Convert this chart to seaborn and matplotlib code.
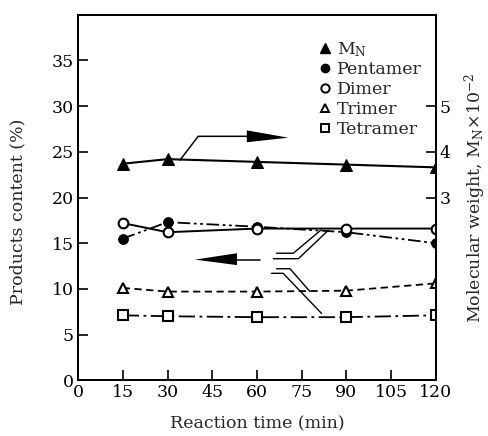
import matplotlib
matplotlib.use("Agg")
import matplotlib.pyplot as plt
import seaborn as sns
import pandas as pd
from matplotlib.lines import Line2D

# ---- data ----
time_min = [15, 30, 60, 90, 120]
mn = [3.74, 3.84, 3.78, 3.72, 3.66]          # Mn x 10^-2 (right axis)
pentamer = [15.5, 17.3, 16.8, 16.2, 15.0]
dimer = [17.2, 16.2, 16.6, 16.6, 16.6]
trimer = [10.1, 9.7, 9.7, 9.8, 10.6]
tetramer = [7.1, 7.0, 6.9, 6.9, 7.1]
x_ticks = [0, 15, 30, 45, 60, 75, 90, 105, 120]
y_ticks = [0, 5, 10, 15, 20, 25, 30, 35]
y2_ticks = [3, 4, 5]

sns.set_theme(style="ticks")
plt.rcParams['font.family'] = ['DejaVu Serif', 'Liberation Serif']
plt.rcParams['mathtext.fontset'] = 'dejavuserif'

FS = 12.5
fig = plt.figure(figsize=(4.88, 4.36), dpi=100)
ax = fig.add_axes([0.16, 0.128, 0.733, 0.838])
ax2 = ax.twinx()

df = pd.DataFrame({"t": time_min, "mn": mn, "pent": pentamer, "dim": dimer,
                   "tri": trimer, "tet": tetramer})

k = 'black'
# left-axis series
sns.lineplot(data=df, x="t", y="dim", ax=ax, color=k, lw=1.4, marker='o',
             markersize=7, markerfacecolor='white', markeredgecolor=k,
             markeredgewidth=1.5, zorder=4)
sns.lineplot(data=df, x="t", y="pent", ax=ax, color=k, lw=1.3, marker='o',
             markersize=7, markerfacecolor=k, markeredgecolor=k,
             dashes=False, zorder=3)
ax.lines[-1].set_linestyle((0, (7, 2, 1.5, 2, 1.5, 2)))
sns.lineplot(data=df, x="t", y="tri", ax=ax, color=k, lw=1.3, marker='^',
             markersize=7, markerfacecolor='white', markeredgecolor=k,
             markeredgewidth=1.5, zorder=3)
ax.lines[-1].set_linestyle((0, (4, 2.5)))
sns.lineplot(data=df, x="t", y="tet", ax=ax, color=k, lw=1.3, marker='s',
             markersize=7, markerfacecolor='white', markeredgecolor=k,
             markeredgewidth=1.5, zorder=3)
ax.lines[-1].set_linestyle((0, (9, 2.5, 1.5, 2.5)))

# right-axis series
sns.lineplot(data=df, x="t", y="mn", ax=ax2, color=k, lw=1.5, marker='^',
             markersize=8, markerfacecolor=k, markeredgecolor=k, zorder=3)

ax.set_xlim(0, 120)
ax.set_ylim(0, 40)
ax2.set_ylim(-1, 7)
ax.set_xticks(x_ticks)
ax.set_yticks(y_ticks)
ax2.set_yticks(y2_ticks)

for a in (ax, ax2):
    a.tick_params(direction='in', length=7, width=1.2, labelsize=FS,
                  colors=k, pad=3)
    for s in a.spines.values():
        s.set_color(k)
        s.set_linewidth(1.4)

ax.set_xlabel("Reaction time (min)", fontsize=FS, labelpad=10)
ax.set_ylabel("Products content (%)", fontsize=FS, labelpad=18)
ax.yaxis.label.set_y(0.46)
ax2.set_ylabel(r"Molecular weight, M$_{\rm N}$$\times$10$^{-2}$",
               fontsize=FS, labelpad=8)

# annotation arrows / connectors
ax.plot([34.2, 40.3, 58], [24.1, 26.7, 26.7], color=k, lw=1.1)
ax.fill([56.6, 70.5, 56.6], [27.35, 26.55, 26.05], color=k, lw=0)
ax.plot([53, 61], [13.2, 13.2], color=k, lw=1.1)
ax.fill([53.3, 39.2, 53.3], [13.9, 13.2, 12.6], color=k, lw=0)
for xs, ys in [([66.6, 72.2, 81.7], [13.9, 13.9, 16.5]),
               ([65.5, 73.9, 83.9], [13.3, 13.3, 16.4]),
               ([66.6, 71.1, 77.8], [12.2, 12.2, 9.7]),
               ([64.9, 68.8, 81.7], [11.7, 11.7, 7.3])]:
    ax.plot(xs, ys, color=k, lw=1.0)

# legend
handles = [
    Line2D([], [], ls='none', marker='^', color=k, markersize=7, label=r"M$_{\rm N}$"),
    Line2D([], [], ls='none', marker='o', color=k, markersize=6, label="Pentamer"),
    Line2D([], [], ls='none', marker='o', markerfacecolor='white', markeredgecolor=k,
           markeredgewidth=1.4, markersize=6, label="Dimer"),
    Line2D([], [], ls='none', marker='^', markerfacecolor='white', markeredgecolor=k,
           markeredgewidth=1.4, markersize=6, label="Trimer"),
    Line2D([], [], ls='none', marker='s', markerfacecolor='white', markeredgecolor=k,
           markeredgewidth=1.4, markersize=6, label="Tetramer"),
]
leg = ax.legend(handles=handles, loc='upper right', bbox_to_anchor=(0.99, 0.96),
                frameon=False, fontsize=FS, handlelength=0.6, handletextpad=0.4,
                labelspacing=0.16, borderaxespad=0.2)

fig.savefig("out.png", dpi=100)
